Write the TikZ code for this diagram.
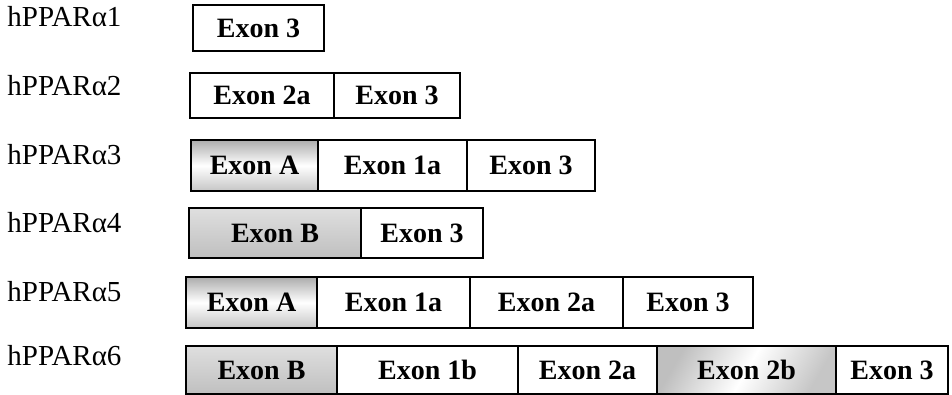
\documentclass[tikz,border=0pt]{standalone}
\usepackage{fontspec}
\setmainfont{Liberation Serif}
\usetikzlibrary{positioning}

\begin{document}
\begin{tikzpicture}[x=0.5pt, y=-0.5pt,
  iso/.style={anchor=base west, inner sep=0pt, font=\fontsize{14.5}{17}\selectfont},
  exon/.style={rectangle, draw, line width=0.6pt, anchor=west, outer sep=0pt,
               inner sep=0pt, minimum width=#1, font=\fontsize{14}{16}\selectfont\bfseries},
  hiA/.style={top color=gray!65, bottom color=gray!45, middle color=white},
  hiB/.style={top color=gray!25, bottom color=gray!50},
  hiC/.style={shading=axis, top color=gray!50, bottom color=gray!45, middle color=white,
              shading angle=60}
]
  \useasboundingbox (0,0) rectangle (952,395);

  % Isoformen
  \node[iso] (l1) at (7,27)  {hPPARα1};
  \node[iso] (l2) at (7,96)  {hPPARα2};
  \node[iso] (l3) at (7,165) {hPPARα3};
  \node[iso] (l4) at (7,233) {hPPARα4};
  \node[iso] (l5) at (7,301) {hPPARα5};
  \node[iso] (l6) at (7,365) {hPPARα6};

  % hPPARa1
  \node[exon=65.5pt, minimum height=23pt] (e13) at (193,28) {Exon 3};

  % hPPARa2
  \node[exon=72pt, minimum height=22.5pt] (e22a) at (190,95.5) {Exon 2a};
  \node[exon=63pt, minimum height=22.5pt, right=0pt of e22a] (e23) {Exon 3};

  % hPPARa3
  \node[exon=63.5pt, minimum height=25.5pt, hiA] (e3A) at (191,165.5) {Exon A};
  \node[exon=74.5pt, minimum height=25.5pt, right=0pt of e3A] (e31a) {Exon 1a};
  \node[exon=64pt, minimum height=25.5pt, right=0pt of e31a] (e33) {Exon 3};

  % hPPARa4
  \node[exon=86pt, minimum height=25pt, hiB] (e4B) at (189,233) {Exon B};
  \node[exon=61pt, minimum height=25pt, right=0pt of e4B] (e43) {Exon 3};

  % hPPARa5
  \node[exon=65.5pt, minimum height=25.5pt, hiA] (e5A) at (186,302.5) {Exon A};
  \node[exon=76.5pt, minimum height=25.5pt, right=0pt of e5A] (e51a) {Exon 1a};
  \node[exon=76.5pt, minimum height=25.5pt, right=0pt of e51a] (e52a) {Exon 2a};
  \node[exon=65pt, minimum height=25.5pt, right=0pt of e52a] (e53) {Exon 3};

  % hPPARa6
  \node[exon=75.5pt, minimum height=24pt, hiB] (e6B) at (186,370) {Exon B};
  \node[exon=90.5pt, minimum height=24pt, right=0pt of e6B] (e61b) {Exon 1b};
  \node[exon=69.5pt, minimum height=24pt, right=0pt of e61b] (e62a) {Exon 2a};
  \node[exon=89.5pt, minimum height=24pt, hiC, right=0pt of e62a] (e62b) {Exon 2b};
  \node[exon=56pt, minimum height=24pt, right=0pt of e62b] (e63) {Exon 3};
\end{tikzpicture}
\end{document}
